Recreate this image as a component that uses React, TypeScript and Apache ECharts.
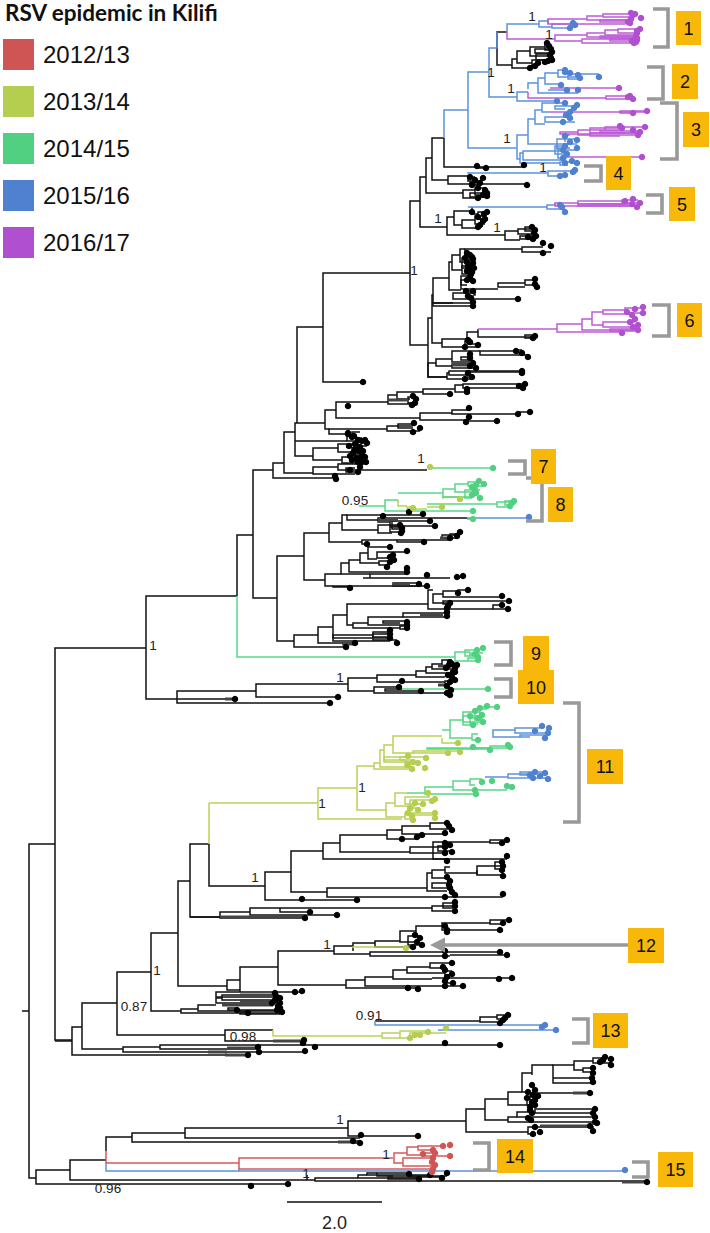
import React, { useEffect, useRef } from "react";
import * as echarts from "echarts";

const seasons = ["2012/13", "2013/14", "2014/15", "2015/16", "2016/17"];
const seasonDots = ["#CF5454", "#B6CE50", "#50D080", "#5080D0", "#B050D0"];
const seasonLines = ["#D45A5A", "#BBD257", "#57D788", "#5D92DD", "#BD5CD8"];
const BLACK = "#111111";

// A fork is [node x, upper y, upper end x, lower y, lower end x] in tree units.
const blackForks = [
  [22,1011,29,1011,29],[29,844,55,1178,36],[55,648,146,1040,72],[146,596,237,699,177],[237,535,253,596,237],
  [253,470,273,598,277],[273,463,284,478,335],[284,432,295,473,313],[297,327,323,423,297],[295,423,325,456,313],[295,441,347,441,295],
  [323,273,410,382,363],[410,201,420,345,428],[420,177,426,227,447],[426,158,432,193,463],[432,138,444,180,448],[444,138,444,167,524],
  [477,166,480,168,486],[448,176,468,184,527],[468,177,475,181,480],[470,182,478,185,480],[463,190,475,198,478],[475,188,485,195,487],[470,193,483,197,485],
  [447,217,454,235,505],[454,211,472,225,462],[472,207,472,214,478],[478,212,485,219,484],[462,220,475,228,478],[475,216,483,224,485],
  [505,231,518,240,520],[518,229,530,234,533],[520,236,533,239,534],[525,227,532,231,535],
  [497,32,507,65,512],[512,59,517,68,528],[517,51,530,63,532],[530,47,545,56,550],[545,44,550,50,551],[532,60,549,66,535],[536,54,551,60,552],[535,49,548,53,551],
  [428,318,432,377,447],[432,295,433,343,442],[433,278,449,303,453],[449,262,452,290,461],[452,255,460,270,462],[460,249,465,262,470],[462,258,473,268,472],[462,266,470,274,473],[465,255,470,260,473],
  [461,280,468,285,467],[461,276,473,289,498],[465,249,522,253,466],[522,247,543,252,551],
  [498,283,525,287,525],[525,280,535,285,537],[453,293,475,299,518],[475,291,466,295,473],[433,303,470,306,473],
  [442,339,467,347,465],[467,332,478,344,478],[478,329,478,337,535],[525,335,535,338,533],[465,341,468,347,478],
  [428,363,436,377,447],[436,359,452,366,452],[452,351,480,362,470],[480,351,516,355,528],[516,350,522,353,522],[452,364,470,368,473],[461,357,473,360,470],
  [447,373,449,379,473],[449,371,522,375,470],[470,372,522,377,467],
  [325,410,336,429,329],[336,402,388,418,420],[388,395,397,404,412],[397,392,423,399,410],[423,389,455,394,450],[455,385,463,392,467],[463,384,525,388,523],[408,397,414,403,415],
  [420,413,452,420,468],[452,410,469,414,518],[518,412,530,415,518],[468,417,469,421,497],[329,429,387,434,348],[387,426,413,431,420],[398,424,413,428,413],
  [347,435,352,441,358],[352,432,360,438,362],[358,441,365,446,367],[313,448,338,460,342],[338,444,352,452,358],[342,457,350,463,360],[352,448,360,455,362],
  [313,467,338,474,355],[338,464,360,470,427],[346,468,355,472,360],
  [277,556,304,641,294],[304,533,329,580,325],[329,523,342,542,362],[342,515,347,530,378],[347,515,359,520,378],[359,515,423,515,359],[378,518,397,522,390],[397,518,467,518,397],[390,521,430,526,435],
  [378,525,399,533,392],[392,521,397,529,400],[390,527,402,532,402],[362,540,397,544,367],[397,540,450,542,424],[442,535,457,538,452],[450,534,460,538,456],
  [325,574,341,586,333],[341,563,349,574,370],[349,560,360,572,405],[360,553,368,563,379],[368,547,390,559,377],[377,552,406,558,390],[379,561,391,565,390],[363,578,450,578,370],[405,568,408,573,406],[370,574,407,578,370],
  [333,586,420,587,350],[393,583,419,586,427],[294,635,318,647,348],[318,627,333,643,355],[333,615,347,638,390],[347,604,428,625,353],
  [428,590,433,609,493],[433,594,443,603,450],[443,591,458,597,502],[458,590,468,595,460],[443,601,509,604,448],[493,605,502,609,508],
  [353,623,368,628,400],[368,617,403,625,405],[403,613,447,617,447],[383,621,407,623,400],[400,626,407,629,407],[373,634,388,637,390],[333,635,373,641,390],[373,632,390,640,397],
  [177,691,256,703,330],[177,699,235,699,177],[256,684,348,697,338],[348,678,377,691,374],[377,675,416,682,445],[416,671,426,677,445],[426,667,432,673,450],[432,664,442,669,452],[442,660,450,666,454],[445,681,450,686,447],
  [374,687,399,693,445],[385,689,402,691,421],
  [190,844,209,917,220],[209,844,209,886,265],[265,872,291,900,357],[291,851,323,892,327],[323,843,340,859,445],[340,835,387,852,410],[387,830,402,839,417],[402,826,430,834,445],[430,823,447,829,449],
  [410,847,445,853,445],[433,842,490,859,507],[490,840,507,843,502],[438,846,447,851,452],
  [327,888,427,897,503],[427,873,432,891,447],[432,870,445,878,447],[445,867,450,873,477],[477,870,477,875,477],[477,866,502,875,503],[495,862,502,869,502],[432,883,447,888,450],
  [151,933,178,1011,181],[178,881,190,986,227],[220,912,250,918,305],[190,917,220,917,190],[250,908,432,915,337],[280,908,280,912,310],[432,906,455,911,455],[443,903,455,908,455],
  [117,972,151,1035,225],[82,1003,117,1049,123],[72,1027,82,1055,247],[55,1041,72,1041,55],[227,980,240,990,240],[240,967,278,992,240],
  [181,1009,198,1013,282],[198,1005,216,1011,277],[216,998,222,1003,280],[222,995,275,1000,275],[216,992,295,997,273],[295,992,302,992,295],[228,1008,237,1010,277],[240,1012,248,1014,280],
  [278,951,334,985,346],[334,946,353,954,370],[353,943,375,951,353],[375,941,400,947,413],[400,931,416,942,417],[416,926,442,934,418],[442,923,490,930,500],[490,920,509,924,503],[408,936,420,945,422],
  [370,952,413,956,450],[413,952,500,952,413],[450,955,507,955,450],[346,980,365,988,408],[365,977,393,986,445],[393,970,407,979,432],[407,967,430,973,445],[430,963,452,968,447],[445,971,452,975,450],[432,978,512,978,499],[445,983,453,986,463],[408,988,418,989,408],
  [225,1030,273,1041,302],[375,1021,480,1021,375],[480,1017,497,1022,497],[497,1015,508,1019,505],[500,1022,503,1023,500],
  [302,1040,303,1045,500],[123,1047,160,1052,305],[160,1045,302,1049,258],[258,1047,258,1052,259],
  [36,1170,70,1184,288],[70,1160,106,1180,307],[106,1137,132,1151,106],[132,1133,185,1142,353],[185,1128,348,1138,360],[348,1121,466,1136,418],[353,1141,360,1143,360],
  [466,1109,485,1132,528],[485,1099,508,1120,508],[508,1092,522,1105,527],[522,1073,532,1092,527],[532,1065,553,1075,532],[553,1065,574,1083,592],[574,1061,593,1070,583],[593,1058,605,1063,611],[583,1068,592,1072,592],[553,1078,592,1078,553],
  [527,1093,590,1105,534],[530,1096,538,1102,532],[508,1117,517,1122,595],[517,1112,535,1117,595],[535,1109,595,1113,593],[528,1127,593,1134,533],[593,1126,593,1130,593],
  [307,1175,307,1180,315],[315,1178,358,1181,647],[358,1175,367,1178,420],[367,1173,377,1175,430],[377,1173,410,1176,447],[388,1177,442,1179,419],
];
const blackThick = [
  [622,1182,647,1182],[338,1142,360,1142],[225,1055,247,1055],[208,1052,227,1052],[227,1048,258,1048],[273,1041,302,1041],[573,1093,590,1093],[393,1176,410,1176],
  [240,995,273,995],[222,1005,273,1005],[240,1001,270,1001],[220,917,305,917],[452,365,468,365],[388,400,408,400],[378,520,398,520],[440,538,453,538],[393,584,410,584],[420,615,443,615],
  [342,644,355,644],[380,633,390,633],[225,699,235,699],[438,666,450,666],[438,685,445,685],[540,1126,590,1126],
];
const blackTips = [
  [477,166],[486,168],[524,165],[527,185],[470,177],[475,180],[480,183],[472,185],[483,178],[478,188],[485,190],[487,193],[487,196],[478,198],[483,195],[472,212],[478,217],[485,219],[484,214],[487,212],[480,225],[478,227],[483,221],
  [532,227],[535,230],[534,233],[536,236],[533,239],[528,237],
  [547,43],[549,46],[551,49],[552,52],[550,55],[551,58],[552,60],[548,61],[535,66],[530,68],[538,63],[545,62],
  [467,253],[472,257],[467,262],[473,263],[470,267],[467,271],[472,272],[470,277],[467,280],[465,258],[470,255],[473,259],[468,266],[474,268],[471,274],[473,281],[543,243],[551,246],[543,253],[535,279],[537,287],[535,284],
  [466,291],[473,291],[468,296],[471,298],[518,299],[473,302],[473,306],[535,336],[533,338],[468,340],[465,347],[478,345],[470,342],
  [516,351],[522,353],[528,357],[470,354],[470,358],[473,363],[470,366],[476,368],[522,371],[522,373],[468,373],[472,377],[465,379],[363,382],
  [348,406],[525,384],[523,388],[519,386],[467,392],[467,389],[450,394],[413,396],[416,399],[415,403],[412,405],[469,408],[518,414],[530,412],[469,417],[466,422],[497,421],[414,423],[420,428],[413,432],[348,434],
  [348,433],[352,437],[358,440],[355,444],[362,441],[367,443],[360,447],[358,451],[362,453],[350,456],[360,458],[362,462],[352,460],[358,462],[354,436],[365,440],[349,446],[355,449],[363,451],[353,453],[365,457],[356,458],[366,462],[350,470],[360,467],[358,472],[335,476],[336,479],
  [383,516],[409,512],[423,514],[430,521],[435,526],[400,525],[402,528],[402,531],[401,533],[460,532],[457,536],[450,538],[424,542],[367,544],
  [390,547],[407,551],[390,557],[390,562],[387,567],[393,555],[394,560],[407,568],[407,572],[427,575],[457,577],[463,576],[350,588],[419,584],[427,586],
  [468,590],[458,593],[502,596],[509,601],[450,603],[448,606],[502,605],[508,609],[447,608],[447,612],[447,616],[407,622],[407,625],[407,628],[346,647],[355,643],[390,630],[390,634],[390,638],[397,643],
  [450,662],[455,668],[453,672],[452,677],[450,682],[447,686],[449,665],[452,664],[446,668],[457,665],[455,672],[448,675],[455,680],[451,690],[399,687],[402,681],[421,691],[447,693],[450,695],[235,699],[338,697],[330,703],
  [447,823],[449,826],[452,830],[445,833],[422,835],[417,837],[402,839],[445,843],[450,845],[445,847],[452,852],[445,853],[507,840],[502,843],[507,856],[447,861],
  [502,862],[503,866],[502,870],[503,876],[447,877],[450,881],[449,885],[450,888],[452,892],[445,897],[455,895],[503,894],[357,900],[302,899],[455,902],[455,906],[455,911],[310,912],[337,915],[305,918],
  [509,920],[503,923],[500,930],[445,926],[447,930],[447,932],[415,935],[420,938],[417,942],[422,945],[413,947],[500,952],[507,955],[445,951],[445,956],[452,963],[443,967],[445,970],[452,974],[447,977],[512,978],[499,979],[445,981],[453,983],[463,986],[445,986],[418,989],[408,988],
  [295,992],[302,991],[275,993],[280,998],[280,1003],[275,1000],[276,996],[272,1003],[278,1006],[280,1008],[277,1010],[237,1010],[248,1013],[282,1012],
  [508,1015],[505,1018],[500,1023],[503,1020],[445,1043],[500,1045],[304,1040],[303,1043],[315,1047],[258,1047],[259,1052],[305,1051],[248,1055],
  [605,1057],[611,1059],[611,1065],[600,1062],[603,1060],[593,1068],[593,1073],[592,1078],[593,1082],[532,1085],[535,1090],[528,1092],[527,1098],[538,1096],[532,1102],[535,1105],[530,1107],[533,1095],[535,1100],[530,1110],[590,1093],
  [595,1109],[593,1113],[595,1117],[595,1122],[597,1123],[533,1134],[540,1132],[535,1127],[590,1126],[593,1131],[528,1118],[532,1113],[531,1120],
  [418,1136],[361,1135],[360,1143],[353,1141],[409,1174],[430,1175],[447,1173],[419,1179],[442,1178],[647,1182],[288,1184],[251,1186],
];

const redForks = [
  [106,1151,106,1163,239],[239,1158,393,1169,432],[394,1153,407,1163,403],[407,1147,418,1155,425],[418,1146,445,1150,433],[403,1158,432,1166,435],[423,1153,435,1156,450],
];
const redTips = [[443,1146],[450,1145],[450,1156],[433,1150],[435,1153],[423,1154],[433,1158],[432,1162],[435,1165],[433,1169],[432,1172]];

const limeForks = [
  [209,803,209,844,209],[209,803,318,803,209],[318,788,357,819,402],[357,766,374,810,386],[374,763,380,769,412],[380,750,384,767,410],[384,745,393,760,407],[393,736,409,753,413],[409,736,442,736,409],[442,738,442,743,458],
  [413,753,448,751,460],[400,757,425,760,415],[405,762,418,767,412],[384,757,405,762,418],[386,803,395,817,405],[395,793,407,806,415],[405,797,430,804,423],[410,800,435,808,420],[405,813,435,819,413],[410,815,435,810,413],
  [273,1030,273,1036,382],[382,1033,400,1038,400],[400,1031,428,1038,410],[410,1033,446,1036,415],[398,500,398,506,407],[407,507,413,509,427],[427,507,442,507,427],[443,497,460,499,443],[353,947,407,948,353],
  [427,467,430,467,427],
];
const limeTips = [
  [458,743],[448,753],[460,752],[426,758],[408,756],[413,762],[408,765],[412,769],[425,768],[418,763],
  [428,793],[435,799],[432,801],[423,804],[415,803],[410,808],[418,810],[435,813],[435,818],[413,820],[408,813],[412,816],
  [410,1038],[415,1035],[428,1032],[446,1028],[420,1035],[430,467],[460,499],[442,507],[413,508],[406,948],
];

const greenForks = [
  [237,596,237,657,455],[455,652,470,661,468],[465,650,477,656,480],[470,653,483,655,478],[468,658,478,661,478],
  [359,506,385,506,359],[385,500,398,511,473],[398,493,443,493,398],[443,489,455,497,470],[455,484,468,492,473],[468,482,479,486,484],[465,490,480,498,472],
  [427,504,497,504,427],[497,502,510,507,510],[505,501,514,505,512],[430,468,493,468,430],[467,519,473,519,467],
  [402,689,488,689,402],[442,730,450,730,442],[450,720,463,738,472],[463,716,475,725,473],[475,709,487,720,482],[480,707,497,714,483],[472,734,478,740,478],[463,712,480,722,483],[470,718,483,724,478],
  [427,748,508,749,490],[490,746,510,748,473],[407,793,425,793,407],[425,787,453,794,475],[453,781,470,790,507],[470,779,482,785,475],[507,786,512,787,507],
];
const greenTips = [
  [479,481],[484,484],[476,485],[472,487],[475,490],[480,498],[472,495],[476,493],[473,511],[514,501],[510,506],[512,503],[493,468],[473,519],
  [483,648],[477,650],[478,657],[478,660],[475,654],[488,689],
  [487,706],[497,707],[480,708],[475,711],[482,715],[478,718],[483,722],[473,725],[478,740],[470,716],[508,745],[510,747],[473,747],[490,750],
  [482,782],[492,781],[512,787],[507,786],[475,790],[476,794],
];

const blueForks = [
  [444,110,468,138,444],[468,72,489,148,517],[489,48,497,97,517],[497,32,497,48,497],[507,24,539,32,507],[539,21,548,27,552],[552,24,573,28,570],
  [517,92,528,101,557],[528,83,538,89,528],[538,78,545,93,578],[545,73,558,84,561],[558,70,565,77,580],[568,74,599,79,578],[548,90,567,90,548],
  [517,135,528,159,520],[528,119,535,144,557],[535,110,542,124,545],[542,103,565,112,550],[555,106,577,109,565],[545,117,565,122,575],[557,139,577,148,570],[557,144,577,149,560],[565,135,570,142,565],
  [520,153,523,163,560],[523,151,560,160,563],[555,146,563,154,565],[558,150,577,158,567],[560,162,577,165,568],
  [468,172,468,173,548],[548,171,575,176,560],[468,207,547,207,468],[547,205,555,209,565],
  [375,1021,375,1025,545],[438,1030,556,1030,438],[467,518,529,518,467],[493,730,515,737,520],[515,728,540,733,548],[520,735,545,737,530],[485,777,508,777,485],[508,774,535,778,548],[520,772,545,775,533],
  [106,1163,106,1171,239],[239,1169,239,1171,625],
];
const blueTips = [
  [573,23],[575,25],[570,28],[565,70],[578,75],[580,78],[599,77],[561,85],[567,90],[578,90],[557,101],[565,72],[570,73],
  [565,103],[577,105],[574,108],[570,112],[566,115],[570,118],[563,122],[577,140],[577,148],[565,136],[570,142],[565,146],[563,150],[567,154],[563,158],[572,161],[577,163],[565,163],
  [575,170],[565,175],[560,176],[573,172],[560,205],[565,212],[562,207],[529,517],
  [545,1025],[542,1027],[556,1030],[625,1170],
  [542,726],[549,728],[548,733],[545,738],[535,731],[533,778],[535,772],[545,773],[548,779],[530,775],[540,776],
];

const purpleForks = [
  [507,32,507,39,555],[548,19,587,24,625],[587,16,603,20,630],[603,14,628,17,632],[548,19,548,24,548],[600,20,630,22,630],
  [555,35,587,41,582],[587,33,605,37,635],[605,30,618,35,635],[618,29,640,33,637],[582,39,636,43,636],[600,36,637,38,637],[610,39,637,41,636],
  [528,92,528,98,606],[606,96,630,99,633],[550,88,619,88,550],[550,112,647,112,550],[620,111,647,113,633],
  [560,132,578,134,590],[578,130,605,135,640],[605,127,645,130,622],[590,133,638,136,620],[590,128,622,133,640],[600,131,640,133,625],
  [567,157,642,157,567],[555,203,578,206,590],[555,203,555,206,555],[578,201,622,204,628],[590,204,635,206,632],[622,200,638,203,640],[578,204,625,206,640],
  [478,329,557,329,478],[557,324,582,332,622],[582,319,592,330,637],[592,312,603,325,603],[603,310,625,314,632],[625,308,643,313,643],[603,322,635,327,638],[610,329,638,331,635],
];
const purpleTips = [
  [631,13],[633,15],[641,18],[631,19],[630,23],[635,14],[628,22],[640,29],[637,31],[637,33],[636,36],[637,38],[637,40],[636,42],[634,43],[632,41],
  [630,96],[633,99],[628,97],[619,88],[647,111],[633,113],[620,126],[622,128],[638,135],[640,132],[645,127],[633,130],[642,157],
  [625,201],[632,204],[640,203],[637,207],[633,199],
  [643,307],[643,313],[635,309],[632,315],[635,319],[638,325],[638,330],[622,333],[630,322],[633,327],[627,312],
];

const supports = [
  ["1",532,16],["1",549,34],["1",491,72],["1",511,88],["1",507,138],["1",543,167],["1",438,218],["1",497,227],["1",414,270],["1",421,458],
  ["0.95",355,500],["1",153,645],["1",340,677],["1",322,803],["1",362,787],["1",255,877],["1",327,944],["1",157,970],["0.87",134,1006],["0.91",369,1015],["0.98",243,1036],
  ["1",340,1119],["1",386,1154],["1",306,1173],["0.96",108,1188],
];
const brackets = [
  [653,9,668,47],[647,67,663,99],[660,103,677,159],[584,166,601,181],[646,195,662,213],[652,305,669,336],[508,461,525,474],[526,478,542,521],[494,642,511,665],[494,679,511,697],[563,703,579,822],[572,1019,588,1043],[473,1143,489,1170],[632,1162,648,1177],
];
const boxes = [
  ["1",676,11,701,45],["2",672,64,698,99],["3",683,112,709,147],["4",606,156,631,190],["5",669,187,695,221],["6",677,303,702,337],["7",531,449,556,484],["8",548,487,573,522],
  ["9",523,636,549,671],["10",518,670,554,704],["11",587,749,623,784],["12",628,928,664,963],["13",593,1013,628,1048],["14",497,1139,533,1173],["15",658,1152,693,1187],
];

function forkSeries(data: number[][], color: string, lineWidth = 1.5): any {
  return {
    type: "custom", data, silent: true, clip: false, z: 2,
    renderItem: (_: any, api: any) => {
      const v = (i: number) => api.value(i);
      const pts = [[v(2), v(1)], [v(0), v(1)], [v(0), v(3)], [v(4), v(3)]].map((p) => api.coord(p));
      return { type: "polyline", shape: { points: pts }, style: { stroke: color, fill: "none", lineWidth } };
    },
  };
}
function tipSeries(name: string, data: number[][], color: string, size = 6.5): any {
  return { type: "scatter", name, data, symbolSize: size, itemStyle: { color, opacity: 1 }, silent: true, z: 3 };
}

export default function App() {
  const ref = useRef<HTMLDivElement>(null);
  useEffect(() => {
    document.body.style.margin = "0";
    const chart = echarts.init(ref.current!, null, { renderer: "svg" });
    const thick = {
      type: "custom", data: blackThick, silent: true, z: 2,
      renderItem: (_: any, api: any) => {
        const a = api.coord([api.value(0), api.value(1)]);
        const b = api.coord([api.value(2), api.value(3)]);
        return { type: "line", shape: { x1: a[0], y1: a[1], x2: b[0], y2: b[1] }, style: { stroke: "#444", lineWidth: 3 } };
      },
    };
    const bracketSeries = {
      type: "custom", data: brackets, silent: true, z: 4,
      renderItem: (_: any, api: any) => {
        const a = api.coord([api.value(0), api.value(1)]);
        const b = api.coord([api.value(2), api.value(3)]);
        return { type: "polyline", shape: { points: [a, [b[0], a[1]], b, [a[0], b[1]]] }, style: { stroke: "#999999", fill: "none", lineWidth: 3.6 } };
      },
    };
    const boxSeries = {
      type: "custom", data: boxes.map((b) => b.slice(1)), silent: true, z: 5,
      renderItem: (p: any, api: any) => {
        const a = api.coord([api.value(0), api.value(1)]);
        const b = api.coord([api.value(2), api.value(3)]);
        return {
          type: "group",
          children: [
            { type: "rect", shape: { x: a[0], y: a[1], width: b[0] - a[0], height: b[1] - a[1] }, style: { fill: "#F8B80A" } },
            { type: "text", style: { x: (a[0] + b[0]) / 2, y: (a[1] + b[1]) / 2 + 0.5, text: boxes[p.dataIndex][0], fill: "#111", font: '18px "Liberation Sans"', align: "center", verticalAlign: "middle" } },
          ],
        };
      },
    };
    const supportSeries = {
      type: "custom", data: supports.map((s) => s.slice(1)), silent: true, z: 6,
      renderItem: (p: any, api: any) => {
        const a = api.coord([api.value(0), api.value(1)]);
        return { type: "text", style: { x: a[0], y: a[1], text: supports[p.dataIndex][0], fill: "#222", font: '13.5px "Liberation Sans"', align: "center", verticalAlign: "middle" } };
      },
    };
    const arrow = {
      type: "custom", data: [[430, 945, 445, 628, 7.5]], silent: true, z: 4,
      renderItem: (_: any, api: any) => {
        const t = api.coord([api.value(0), api.value(1)]);
        const n = api.coord([api.value(2), api.value(1)]);
        const e = api.coord([api.value(3), api.value(1)]);
        const h = api.value(4);
        return {
          type: "group",
          children: [
            { type: "polygon", shape: { points: [t, [n[0], n[1] - h], [n[0], n[1] + h]] }, style: { fill: "#999999" } },
            { type: "line", shape: { x1: n[0], y1: n[1], x2: e[0], y2: e[1] }, style: { stroke: "#999999", lineWidth: 3.6 } },
          ],
        };
      },
    };
    const scale = {
      type: "custom", data: [[287, 382, 1202]], silent: true, z: 4,
      renderItem: (_: any, api: any) => {
        const a = api.coord([api.value(0), api.value(2)]);
        const b = api.coord([api.value(1), api.value(2)]);
        return {
          type: "group",
          children: [
            { type: "line", shape: { x1: a[0], y1: a[1], x2: b[0], y2: b[1] }, style: { stroke: "#111", lineWidth: 1.5 } },
            { type: "text", style: { x: (a[0] + b[0]) / 2, y: a[1] + 21, text: "2.0", fill: "#222", font: '18px "Liberation Sans"', align: "center", verticalAlign: "middle" } },
          ],
        };
      },
    };
    chart.setOption({
      animation: false,
      backgroundColor: "#fff",
      title: { text: "RSV epidemic in Kilifi", left: 5, top: 1, padding: 0, textStyle: { fontFamily: "Lato", fontWeight: "bold", fontSize: 22.5, color: "#111" } },
      legend: {
        data: seasons, orient: "vertical", left: 3, top: 39, padding: 0, itemWidth: 31, itemHeight: 31, itemGap: 16, icon: "rect", selectedMode: false,
        textStyle: { fontFamily: "Liberation Sans", fontSize: 24, color: "#111", padding: [0, 0, 0, 4] },
      },
      grid: { left: 0, right: 0, top: 0, bottom: 0 },
      xAxis: { type: "value", min: 0, max: 710, show: false },
      yAxis: { type: "value", min: 0, max: 1233, inverse: true, show: false },
      series: [
        forkSeries(blackForks, BLACK),
        thick,
        forkSeries(redForks, seasonLines[0]),
        forkSeries(limeForks, seasonLines[1]),
        forkSeries(greenForks, seasonLines[2]),
        forkSeries(blueForks, seasonLines[3]),
        forkSeries(purpleForks, seasonLines[4]),
        tipSeries("black", blackTips, "#000"),
        tipSeries(seasons[0], redTips, seasonDots[0]),
        tipSeries(seasons[1], limeTips, seasonDots[1]),
        tipSeries(seasons[2], greenTips, seasonDots[2]),
        tipSeries(seasons[3], blueTips, seasonDots[3]),
        tipSeries(seasons[4], purpleTips, seasonDots[4]),
        bracketSeries, arrow, boxSeries, supportSeries, scale,
      ],
    });
    return () => chart.dispose();
  }, []);
  return <div ref={ref} style={{ width: 710, height: 1233 }} />;
}
